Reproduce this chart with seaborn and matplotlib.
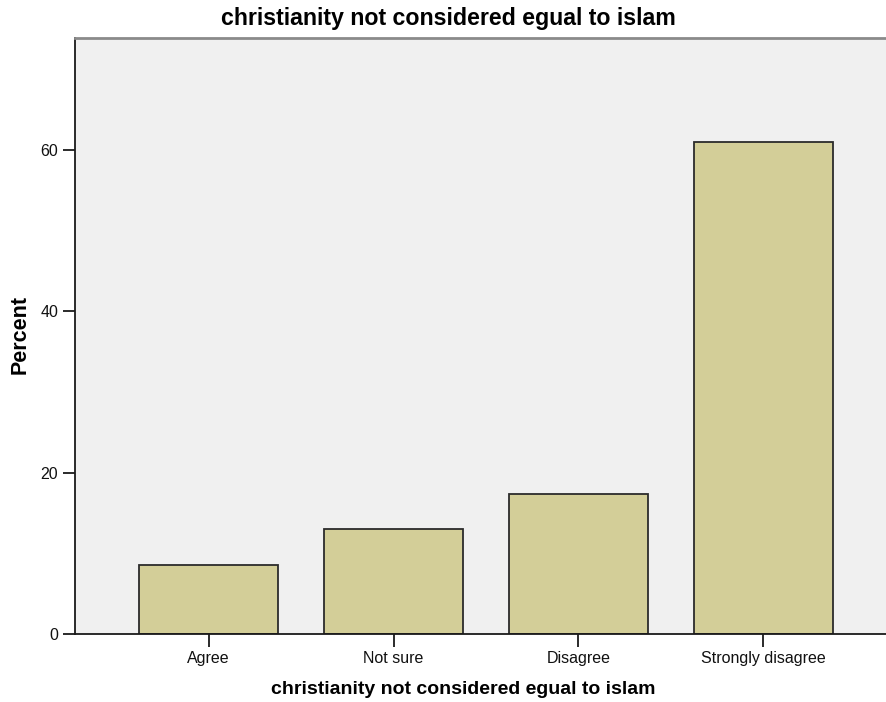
import matplotlib
matplotlib.use("Agg")
import matplotlib.pyplot as plt
import seaborn as sns
import pandas as pd

# --- DATOS ---
categorias = ["Agree", "Not sure", "Disagree", "Strongly disagree"]
porcentaje = [8.6, 13.0, 17.4, 61.0]
ticks_y = [0, 20, 40, 60]
titulo = "christianity not considered egual to islam"

df = pd.DataFrame({"respuesta": categorias, "pct": porcentaje})

# --- ESTILO ---
sns.set_style("white")
plt.rcParams["font.family"] = ["Liberation Sans", "DejaVu Sans"]
plt.rcParams["text.color"] = "black"

fig = plt.figure(figsize=(8.86, 7.02), dpi=100)
ax = fig.add_axes([75 / 886, 1 - 634 / 702, 822 / 886, 596 / 702])
ax.set_facecolor("#f0f0f0")

sns.barplot(data=df, x="respuesta", y="pct", order=categorias, color="#d3ce98",
            saturation=1, width=0.75, edgecolor="#2b2b2b", linewidth=1.3, ax=ax)

ax.set_xlim(-0.722, 3.722)
ax.set_ylim(0, 73.85)
ax.set_yticks(ticks_y)
ax.set_xlabel("")
ax.set_ylabel("")

# ejes
for s in ["left", "bottom"]:
    ax.spines[s].set_color("#1a1a1a")
    ax.spines[s].set_linewidth(1.3)
ax.spines["top"].set_color("#8a8a8a")
ax.spines["top"].set_linewidth(2)
ax.spines["right"].set_visible(False)

ax.tick_params(axis="both", which="both", length=9, width=1.3, color="#1a1a1a",
               labelsize=11.5, labelcolor="#111111", direction="out", pad=3)
ax.tick_params(axis="x", bottom=True)
ax.tick_params(axis="y", left=True)

# textos
fig.text(448 / 886, 1 - 18 / 702, titulo, ha="center", va="center",
         fontsize=16.7, fontweight="bold", color="black")
fig.text(463 / 886, 1 - 690 / 702, titulo, ha="center", va="center",
         fontsize=14, fontweight="bold", color="black")
fig.text(20 / 886, 1 - 335 / 702, "Percent", ha="center", va="center",
         rotation=90, fontsize=15.5, fontweight="bold", color="black")

fig.savefig("out.png", dpi=100)
